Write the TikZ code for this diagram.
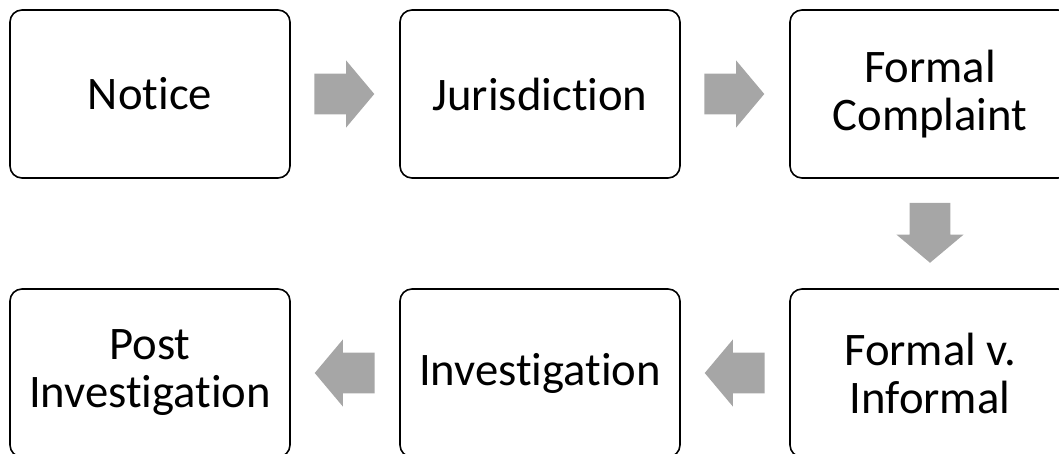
\documentclass[tikz,border=0pt]{standalone}
\usepackage{fontspec}
\setmainfont{Carlito}[Ligatures=NoCommon]
\usetikzlibrary{shapes.arrows,calc}
\definecolor{arrowgray}{HTML}{A6A6A6}
\tikzset{
stage/.style={draw, line width=1.2pt, rounded corners=9pt, minimum width=210pt, minimum height=126pt, align=center, inner sep=0pt, font=\fontsize{35}{36}\selectfont},
flow/.style={single arrow, fill=arrowgray, draw=none, anchor=tail, inner xsep=0pt, inner ysep=15pt, minimum height=45pt, single arrow head extend=10pt, single arrow tip angle=100}}

\begin{document}
\begin{tikzpicture}[x=0.75pt, y=-0.75pt]
    \useasboundingbox (0,0) rectangle (1059,453);

                \node[stage] (notice) at (150,94) {Notice};
                \node[stage] (juris) at (540,94) {Jurisdiction};
                \node[stage] (complaint) at (930,94) {Formal\\Complaint};
                \node[stage] (formal) at (930,373) {Formal v.\\Informal};
                \node[stage] (invest) at (540,373) {Investigation};
                \node[stage] (post) at (150,373) {Post\\Investigation};

                % block arrows, tail placed half a length before the gap's middle
                \node[flow] (a1) at ($(notice.east)!0.5!(juris.west)+(-31,0)$) {};
                \node[flow] (a2) at ($(juris.east)!0.5!(complaint.west)+(-31,0)$) {};
                \node[flow, rotate=-90] (a3) at ($(complaint.south)!0.5!(formal.north)+(0,-31)$) {};
                \node[flow, rotate=180] (a4) at ($(formal.west)!0.5!(invest.east)+(30,0)$) {};
                \node[flow, rotate=180] (a5) at ($(invest.west)!0.5!(post.east)+(30,0)$) {};

            \end{tikzpicture}
\end{document}
